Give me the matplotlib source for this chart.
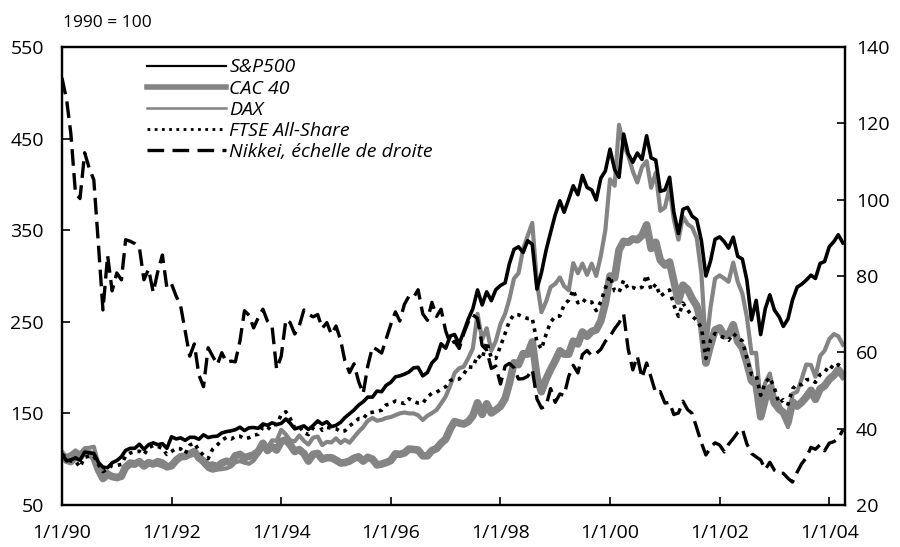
import numpy as np
import pandas as pd
import matplotlib
matplotlib.use('Agg')
import matplotlib.pyplot as plt
from matplotlib.lines import Line2D

plt.rcParams['font.family'] = ['Open Sans', 'DejaVu Sans']

# monthly observations, 1990-01 .. 2004-04 (index, 1990 = 100)
dates = pd.date_range('1990-01-01', '2004-04-01', freq='MS')

sp500 = [
  105.4, 98.2, 99.1, 101.5, 98.8, 107.8, 106.9, 106.3, 96.4, 91.3, 90.7, 96.1,
  98.5, 102.7, 109.6, 111.9, 111.9, 116.4, 110.7, 115.8, 117.9, 115.8, 117.0, 111.9,
  124.5, 122.1, 123.3, 120.6, 123.9, 123.9, 121.8, 126.6, 123.6, 124.8, 125.1, 128.7,
  130.1, 131.0, 132.2, 134.9, 131.3, 134.3, 134.6, 133.7, 138.5, 137.0, 139.7, 137.9,
  139.1, 143.9, 139.4, 133.1, 134.6, 136.4, 132.5, 136.7, 141.8, 138.2, 140.9, 135.5,
  137.0, 140.3, 145.4, 149.6, 153.7, 159.1, 162.7, 167.8, 167.8, 174.3, 173.7, 180.6,
  183.9, 189.9, 191.0, 192.8, 195.2, 199.7, 200.3, 191.0, 194.6, 205.1, 210.4, 226.0,
  221.2, 234.6, 236.1, 226.0, 239.1, 253.1, 264.2, 284.8, 268.4, 282.7, 273.1, 285.1,
  289.6, 292.5, 313.1, 329.0, 331.9, 325.7, 338.5, 334.6, 285.7, 303.6, 328.1, 347.5,
  366.9, 382.1, 369.6, 383.9, 398.5, 388.7, 409.9, 396.7, 394.0, 383.0, 406.9, 414.6,
  438.5, 416.1, 407.8, 455.0, 433.4, 424.2, 434.3, 427.2, 453.1, 429.0, 426.6, 392.5,
  394.0, 407.8, 370.1, 346.3, 372.8, 374.9, 365.4, 361.5, 338.5, 300.0, 316.4, 340.0,
  342.7, 337.3, 330.4, 342.4, 321.5, 318.5, 295.5, 252.0, 273.4, 236.0, 264.5, 279.4,
  262.7, 255.5, 245.0, 253.1, 273.7, 287.8, 291.0, 295.5, 300.9, 297.3, 313.7, 315.8,
  331.9, 337.6, 345.0, 336.1,
]

cac40 = [
  105.3, 98.9, 97.4, 102.6, 102.6, 108.4, 106.3, 102.1, 88.4, 78.9, 83.2, 81.1,
  79.9, 81.6, 91.6, 95.8, 94.7, 97.4, 92.6, 96.3, 94.7, 97.4, 95.8, 91.6,
  92.9, 98.9, 102.6, 103.2, 105.8, 108.4, 101.6, 97.9, 92.6, 93.7, 91.6, 95.8,
  97.8, 96.3, 103.7, 105.3, 101.6, 103.2, 104.7, 108.4, 117.4, 109.5, 113.7, 110.0,
  119.4, 121.1, 115.8, 108.4, 110.5, 106.3, 97.9, 105.3, 106.3, 100.0, 101.6, 101.6,
  99.0, 95.8, 96.3, 97.9, 101.1, 102.6, 97.9, 102.1, 100.0, 93.7, 94.7, 96.3,
  98.5, 105.8, 105.3, 106.8, 111.1, 110.5, 110.0, 103.7, 103.7, 109.5, 111.6, 117.4,
  121.9, 133.2, 141.1, 139.5, 138.4, 141.1, 147.4, 161.6, 148.9, 160.5, 150.5, 153.7,
  157.8, 166.3, 182.6, 205.3, 203.2, 215.3, 214.7, 228.0, 189.5, 173.7, 187.4, 197.9,
  207.5, 218.4, 214.7, 214.7, 228.9, 225.8, 238.9, 234.2, 239.5, 241.1, 251.1, 270.5,
  300.0, 297.9, 328.4, 337.9, 336.8, 340.5, 339.5, 344.2, 355.8, 330.0, 336.8, 317.4,
  311.9, 315.3, 294.7, 272.6, 290.0, 285.3, 275.3, 267.4, 248.4, 205.0, 224.7, 241.1,
  243.4, 234.7, 235.8, 246.8, 228.4, 221.6, 205.3, 185.8, 181.6, 146.3, 165.8, 177.9,
  161.3, 154.7, 151.1, 140.0, 162.6, 157.9, 162.1, 167.9, 175.3, 165.3, 176.8, 180.0,
  187.3, 191.6, 197.9, 191.1,
]

dax = [
  104.3, 103.7, 105.5, 109.6, 106.1, 111.9, 112.5, 113.6, 94.4, 83.3, 86.2, 82.2,
  81.5, 79.3, 88.6, 93.2, 93.2, 96.7, 92.1, 95.6, 95.6, 93.8, 92.1, 91.5,
  92.0, 100.2, 102.6, 101.4, 103.7, 104.9, 101.4, 94.4, 89.2, 87.4, 88.6, 89.2,
  90.0, 92.1, 96.7, 97.9, 96.2, 95.0, 98.5, 105.5, 115.4, 112.5, 120.6, 120.0,
  132.1, 127.0, 120.6, 119.5, 125.9, 120.0, 116.0, 123.5, 124.7, 115.4, 118.9, 118.3,
  122.8, 117.7, 121.2, 118.0, 124.0, 130.0, 135.0, 142.0, 145.0, 142.0, 143.0, 145.0,
  146.0, 148.0, 150.0, 151.0, 150.0, 150.0, 148.0, 142.8, 147.4, 150.3, 153.8, 160.8,
  168.4, 180.7, 194.1, 199.3, 201.0, 210.4, 220.9, 258.7, 230.8, 243.0, 218.5, 229.0,
  247.7, 258.7, 274.5, 297.2, 303.0, 329.3, 343.8, 358.0, 293.1, 260.5, 272.1, 287.9,
  291.5, 298.4, 289.0, 284.4, 314.1, 303.0, 313.5, 301.3, 313.5, 300.1, 322.3, 350.2,
  405.5, 398.6, 465.0, 442.9, 431.8, 414.3, 402.1, 419.0, 425.4, 396.3, 412.6, 371.2,
  374.9, 396.3, 361.9, 339.7, 364.8, 356.6, 353.1, 341.5, 302.4, 222.0, 265.7, 297.2,
  300.7, 297.2, 293.7, 314.7, 293.7, 280.9, 255.2, 215.6, 216.2, 161.4, 183.6, 193.5,
  168.6, 160.3, 148.6, 135.0, 171.3, 173.7, 187.6, 203.4, 202.8, 190.0, 212.7, 218.5,
  231.1, 236.6, 234.3, 224.9,
]

ftse = [
  105.3, 101.6, 98.0, 97.7, 91.4, 102.0, 103.3, 103.3, 94.0, 86.5, 89.1, 93.4,
  93.2, 94.3, 103.5, 106.8, 108.1, 108.7, 105.0, 112.5, 115.0, 114.0, 111.6, 105.2,
  108.4, 111.8, 111.4, 106.1, 115.4, 117.7, 109.6, 104.3, 100.6, 111.0, 115.6, 120.8,
  123.8, 122.0, 124.7, 125.1, 122.3, 123.5, 126.1, 127.3, 134.8, 132.0, 137.9, 137.7,
  148.6, 151.8, 144.7, 134.2, 135.9, 129.1, 126.9, 134.0, 141.3, 131.6, 134.7, 134.0,
  133.3, 130.1, 130.9, 136.4, 139.9, 144.3, 144.1, 150.6, 151.2, 152.5, 153.4, 159.3,
  160.4, 163.5, 162.1, 160.8, 166.0, 163.0, 161.3, 161.0, 168.1, 171.9, 173.0, 176.4,
  179.1, 185.9, 187.3, 187.5, 192.9, 200.9, 200.2, 213.3, 209.4, 228.0, 210.5, 210.0,
  223.3, 237.3, 250.7, 257.9, 257.7, 255.3, 253.6, 253.8, 228.2, 220.2, 236.4, 249.7,
  255.8, 256.3, 268.5, 273.7, 284.9, 270.7, 274.7, 270.9, 271.6, 262.2, 272.0, 286.8,
  300.0, 283.6, 282.0, 295.3, 286.1, 287.5, 285.5, 287.7, 301.1, 284.7, 291.0, 278.0,
  281.6, 284.8, 268.3, 256.0, 270.4, 263.0, 256.3, 251.4, 243.4, 210.0, 230.1, 237.3,
  234.8, 232.6, 229.8, 237.2, 232.6, 229.1, 210.4, 192.6, 191.8, 169.8, 183.7, 189.3,
  177.3, 161.1, 165.0, 160.0, 176.7, 182.0, 181.3, 186.7, 187.0, 183.9, 192.4, 194.8,
  202.7, 198.9, 203.3, 198.7,
]

# right-hand scale
nikkei = [
  131.9, 126.1, 117.3, 101.6, 100.3, 112.3, 108.3, 105.2, 88.1, 71.1, 85.4, 76.1,
  80.8, 79.0, 89.5, 89.1, 88.5, 87.4, 79.0, 81.8, 75.7, 81.1, 85.5, 76.9,
  77.9, 74.7, 72.3, 65.6, 59.0, 62.2, 54.1, 51.0, 61.2, 59.0, 56.8, 59.9,
  57.4, 57.7, 57.5, 63.0, 70.9, 69.7, 66.4, 69.1, 71.3, 68.2, 66.8, 55.6,
  59.0, 68.6, 67.8, 64.8, 66.9, 71.1, 70.0, 69.3, 69.9, 66.3, 67.8, 64.7,
  66.9, 63.2, 57.8, 54.7, 57.0, 52.3, 49.2, 56.5, 61.4, 60.7, 59.8, 63.5,
  67.3, 70.6, 68.2, 72.6, 74.7, 74.4, 76.4, 70.1, 68.4, 73.1, 69.4, 71.3,
  65.6, 62.1, 62.9, 61.0, 64.9, 68.0, 69.8, 68.9, 61.8, 60.6, 55.8, 56.4,
  51.7, 56.4, 57.1, 56.0, 53.0, 53.1, 53.7, 55.5, 47.8, 45.4, 46.0, 50.5,
  46.9, 49.1, 48.7, 53.7, 56.6, 54.6, 59.4, 60.5, 59.1, 59.7, 60.8, 62.9,
  64.2, 66.2, 67.7, 70.0, 60.9, 55.4, 59.0, 53.3, 57.2, 53.4, 49.3, 49.7,
  46.7, 46.9, 43.7, 44.1, 47.2, 45.0, 44.0, 40.2, 36.3, 33.1, 35.1, 36.3,
  35.7, 33.9, 35.9, 37.4, 39.0, 39.9, 36.0, 33.5, 32.6, 31.8, 29.3, 31.2,
  29.1, 28.3, 28.3, 27.0, 26.0, 28.6, 30.8, 32.4, 35.1, 34.6, 35.8, 34.2,
  36.2, 36.6, 37.4, 39.7,
]

labels = ['S&P500', 'CAC 40', 'DAX', 'FTSE All-Share', 'Nikkei, échelle de droite']
xtick_years = [1990, 1992, 1994, 1996, 1998, 2000, 2002, 2004]
xtick_labels = ['1/1/90', '1/1/92', '1/1/94', '1/1/96', '1/1/98', '1/1/00', '1/1/02', '1/1/04']

gray = '#848484'
fontSize = 14

fig = plt.figure(figsize=(9, 5.47), dpi=100)
ax = fig.add_axes([62/900, 1 - 505/547, (845 - 62)/900, (505 - 47)/547])
ax2 = ax.twinx()

ax.plot(dates, sp500, color='black', lw=2.6, zorder=3)
ax.plot(dates, cac40, color=gray, lw=5.5, zorder=2)
ax.plot(dates, dax, color=gray, lw=3.0, zorder=2)
ax.plot(dates, ftse, color='black', lw=2.6, linestyle=(0, (1, 1.4)), zorder=4)
ax2.plot(dates, nikkei, color='black', lw=2.4, linestyle=(0, (5, 2.2)))

ax.set_xlim(pd.Timestamp('1990-01-01'), pd.Timestamp('2004-04-15'))
ax.set_ylim(50, 550)
ax2.set_ylim(20, 140)
ax.set_yticks(range(50, 551, 100))
ax2.set_yticks(range(20, 141, 20))
ax.set_xticks([pd.Timestamp(str(y) + '-01-01') for y in xtick_years])
ax.set_xticklabels(xtick_labels)

for a in (ax, ax2):
  for s in a.spines.values():
    s.set_linewidth(1.6)
ax.tick_params(axis='x', direction='in', length=6, width=1.2, top=False, pad=14, labelsize=fontSize)
ax.tick_params(axis='y', direction='in', length=6, width=1.2, right=False, pad=13, labelsize=fontSize)
ax2.tick_params(axis='y', direction='in', length=6, width=1.2, pad=8, labelsize=fontSize)

handles = [
  Line2D([], [], color='black', lw=1.6),
  Line2D([], [], color=gray, lw=4.0),
  Line2D([], [], color=gray, lw=1.8),
  Line2D([], [], color='black', lw=2.0, linestyle=(0, (1, 1.6))),
  Line2D([], [], color='black', lw=2.4, linestyle=(0, (5, 2.5))),
]
leg = ax2.legend(handles, labels, loc='upper left', bbox_to_anchor=(0.108, 0.975),
                 frameon=False, handlelength=4.1, handletextpad=0.15, labelspacing=0.16,
                 borderpad=0, borderaxespad=0, prop={'style': 'italic', 'size': 14})

fig.text(107/900, 1 - 23/547, '1990 = 100', ha='center', va='center', fontsize=12.5)

plt.savefig('out.png', dpi=100)
